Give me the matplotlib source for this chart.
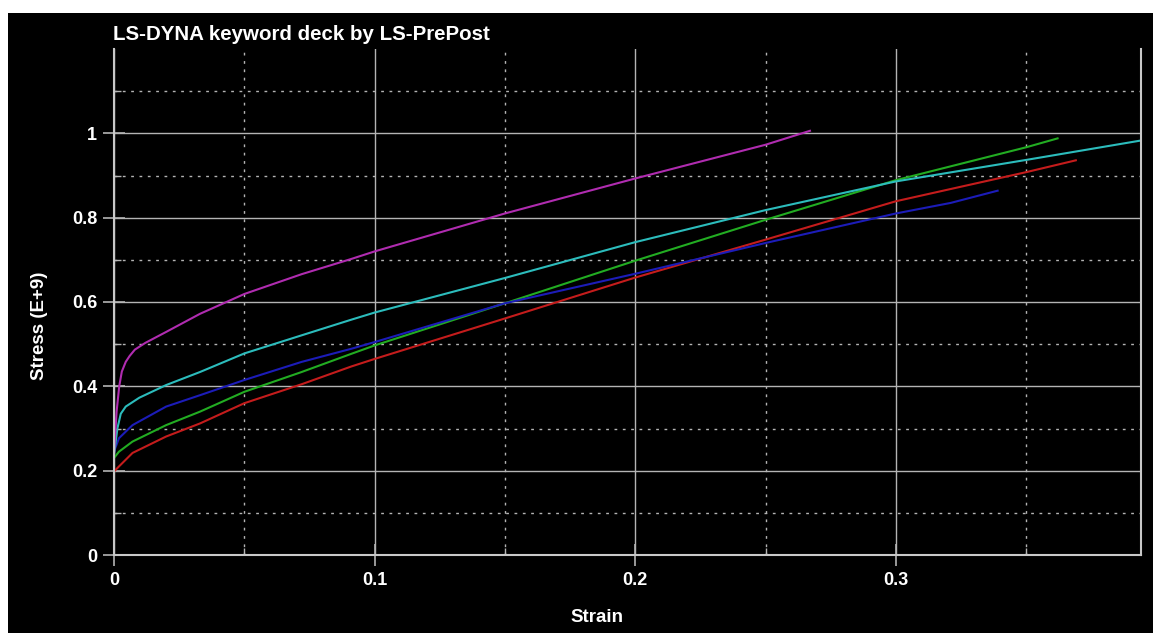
import matplotlib.pyplot as plt
from matplotlib.patches import Rectangle
from matplotlib.ticker import MultipleLocator

# curve data (strain, stress in E+9)
magenta_strain = [0, 0.0005, 0.001, 0.002, 0.003, 0.0045, 0.006, 0.008, 0.012, 0.02, 0.033, 0.05, 0.072, 0.091, 0.1, 0.15, 0.2, 0.25, 0.267]
magenta_stress = [0.24, 0.29, 0.34, 0.40, 0.435, 0.458, 0.472, 0.487, 0.503, 0.529, 0.572, 0.619, 0.666, 0.702, 0.72, 0.81, 0.893, 0.973, 1.006]

cyan_strain = [0, 0.0013, 0.0026, 0.0045, 0.0097, 0.02, 0.033, 0.05, 0.072, 0.091, 0.1, 0.15, 0.2, 0.25, 0.3, 0.35, 0.394]
cyan_stress = [0.238, 0.30, 0.335, 0.352, 0.373, 0.403, 0.434, 0.478, 0.521, 0.558, 0.575, 0.657, 0.742, 0.818, 0.886, 0.937, 0.983]

blue_strain = [0, 0.0019, 0.0071, 0.02, 0.033, 0.05, 0.072, 0.091, 0.1, 0.15, 0.2, 0.25, 0.3, 0.321, 0.339]
blue_stress = [0.245, 0.277, 0.308, 0.352, 0.379, 0.415, 0.458, 0.489, 0.505, 0.597, 0.667, 0.74, 0.81, 0.835, 0.864]

green_strain = [0, 0.0019, 0.0071, 0.02, 0.033, 0.05, 0.072, 0.091, 0.1, 0.15, 0.2, 0.25, 0.3, 0.35, 0.362]
green_stress = [0.23, 0.245, 0.269, 0.308, 0.34, 0.387, 0.434, 0.477, 0.497, 0.597, 0.698, 0.795, 0.889, 0.967, 0.988]

red_strain = [0, 0.0019, 0.0071, 0.02, 0.033, 0.05, 0.072, 0.091, 0.1, 0.15, 0.2, 0.25, 0.3, 0.35, 0.369]
red_stress = [0.198, 0.21, 0.242, 0.281, 0.312, 0.36, 0.405, 0.447, 0.465, 0.561, 0.658, 0.748, 0.839, 0.908, 0.936]

x_ticks = [0, 0.1, 0.2, 0.3]
x_labels = ["0", "0.1", "0.2", "0.3"]
y_ticks = [0, 0.2, 0.4, 0.6, 0.8, 1.0]
y_labels = ["0", "0.2", "0.4", "0.6", "0.8", "1"]
y_minor = [0.1, 0.3, 0.5, 0.7, 0.9, 1.1]

plt.rcParams["font.family"] = ["Liberation Sans", "DejaVu Sans"]
plt.rcParams["font.weight"] = "bold"

W, H = 1153, 633
fig = plt.figure(figsize=(W / 100, H / 100), dpi=100, facecolor="white")
fig.patches.append(Rectangle((8 / W, 0), 1, 1 - 13 / H, transform=fig.transFigure,
                             facecolor="black", edgecolor="none", zorder=-10))

ax = fig.add_axes([114 / W, 1 - 555 / H, (1141 - 114) / W, (555 - 49) / H])
ax.set_zorder(5)
ax.set_facecolor("black")

grid_c = "#b4b4b4"
ax.plot(red_strain, red_stress, color="#c41c1c", lw=1.5)
ax.plot(green_strain, green_stress, color="#22ac22", lw=1.5)
ax.plot(blue_strain, blue_stress, color="#1c1cb8", lw=1.5)
ax.plot(cyan_strain, cyan_stress, color="#2cbcbc", lw=1.5)
ax.plot(magenta_strain, magenta_stress, color="#b02cb0", lw=1.5)

ax.set_xlim(0, 0.394)
ax.set_ylim(0, 1.2)
ax.set_xticks(x_ticks)
ax.set_xticklabels(x_labels)
ax.set_yticks(y_ticks)
ax.set_yticklabels(y_labels)
ax.xaxis.set_minor_locator(MultipleLocator(0.05))
ax.set_yticks(y_minor, minor=True)

ax.grid(which="major", color=grid_c, lw=1.0, ls="-")
ax.grid(which="minor", color=grid_c, lw=1.0, ls=(0, (2, 4)))
ax.set_axisbelow(True)

ax.tick_params(which="major", direction="inout", length=16, width=1.2, color=grid_c,
               labelcolor="white", labelsize=13, pad=4)
ax.tick_params(which="minor", direction="in", length=5, width=1.0, color=grid_c)

for side in ["left", "bottom", "right"]:
    ax.spines[side].set_color("#c8c8c8")
    ax.spines[side].set_linewidth(1.5)
ax.spines["top"].set_visible(False)

fig.text(113 / W, 1 - 35 / H, "LS-DYNA keyword deck by LS-PrePost", color="white",
         fontsize=14.8, fontweight="bold", ha="left", va="center")
fig.text(597 / W, 1 - 618 / H, "Strain", color="white", fontsize=13.5,
         fontweight="bold", ha="center", va="center")
fig.text(40 / W, 1 - 326 / H, "Stress (E+9)", color="white", fontsize=13.5,
         fontweight="bold", ha="center", va="center", rotation=90)

fig.savefig("out.png", dpi=100, facecolor="white")
